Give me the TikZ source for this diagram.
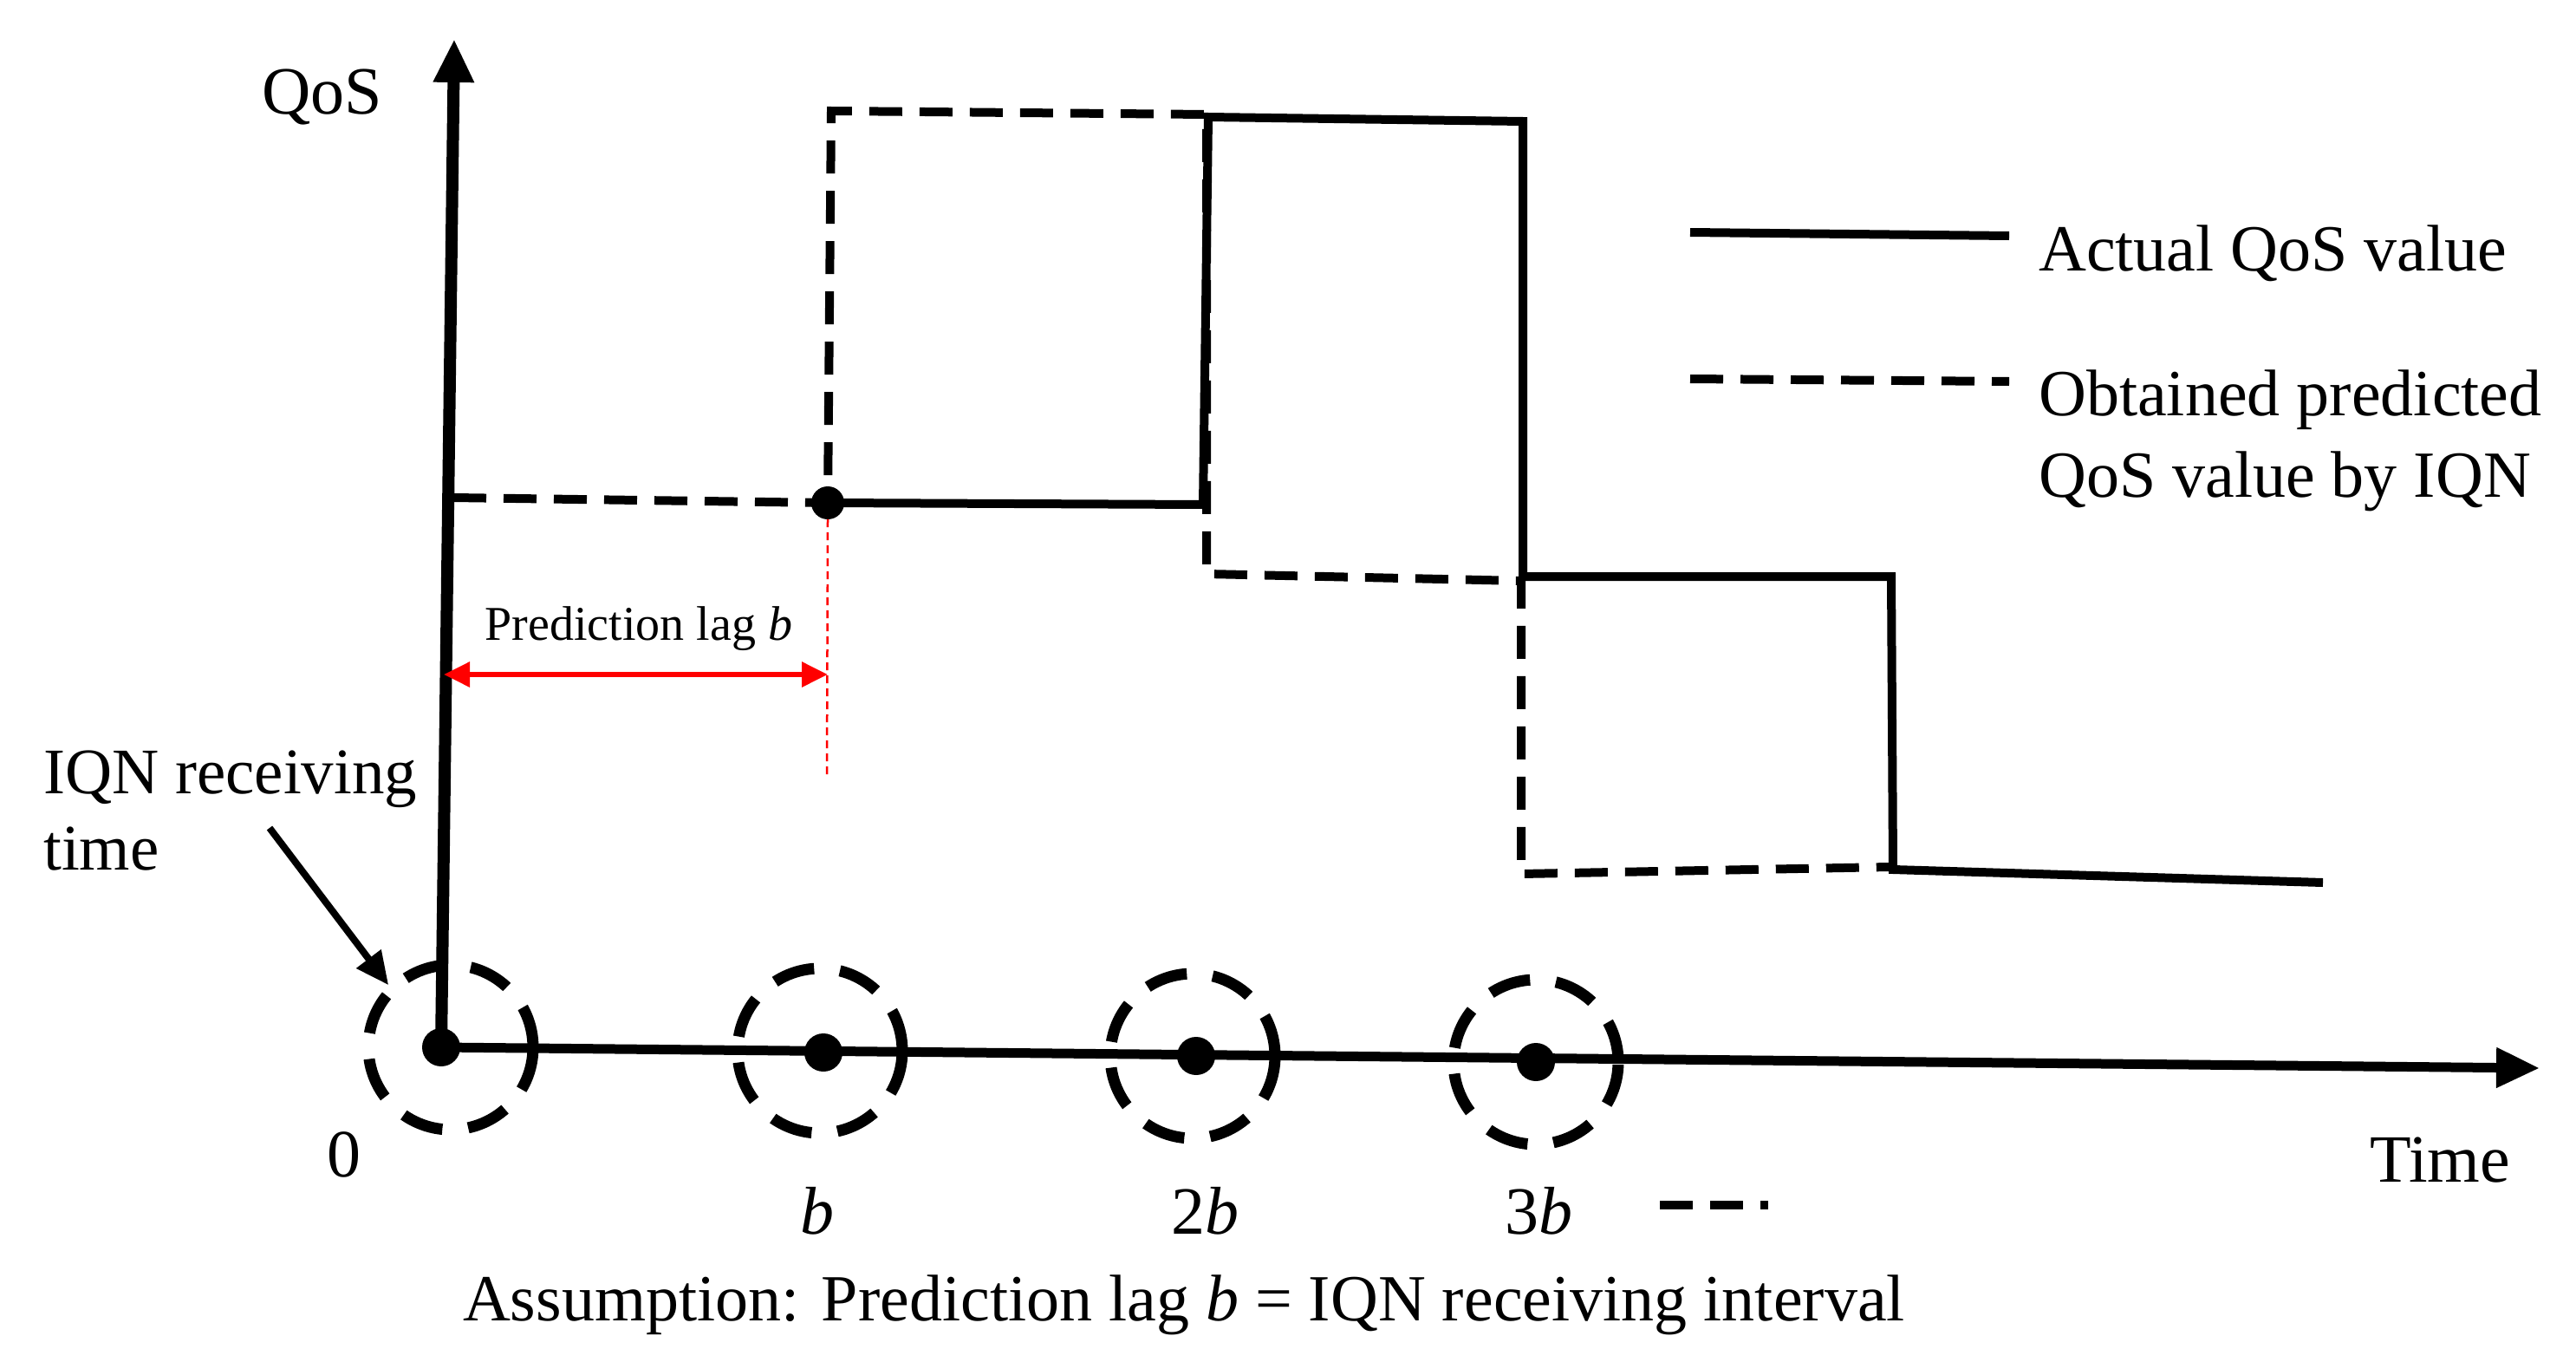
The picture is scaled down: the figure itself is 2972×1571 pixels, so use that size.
\documentclass[tikz,border=0pt]{standalone}
\usepackage{fontspec}
\setmainfont{Liberation Serif}
\usetikzlibrary{arrows.meta}
\begin{document}
\begin{tikzpicture}[x=1pt,y=-1pt,
  txt/.style={font=\fontsize{78}{92}\selectfont,inner sep=0pt},
  act/.style={line width=10pt},
  pred/.style={line width=10pt,dash pattern=on 38pt off 20pt},
  ring/.style={circle,draw,line width=13pt,dash pattern=on 48pt off 30pt,minimum size=190pt,inner sep=0pt},
  dot/.style={circle,fill,minimum size=44pt,inner sep=0pt}]
\useasboundingbox (0,0) rectangle (2972,1571);
% axes
\node[dot] (o) at (509,1208) {};
\coordinate (ytop) at (524,45);
\coordinate (xend) at (2930,1232);
\draw[line width=14pt,-{Triangle[length=50pt,width=44pt]}] (o.center) -- (ytop);
\draw[line width=11pt,-{Triangle[length=50pt,width=44pt]}] (o.center) -- (xend);
\node[dot] (d1) at (950,1214) {};
\node[dot] (d2) at (1380,1218) {};
\node[dot] (d3) at (1772,1225) {};
\node[ring] (r0) at (520,1208) {};
\node[ring] (r1) at (946,1212) {};
\node[ring] (r2) at (1376,1218) {};
\node[ring] (r3) at (1772,1225) {};
% curves
\node[dot,minimum size=38pt] (p) at (955,580) {};
\draw[pred] (523,574) -- (p.center) -- (959,128) -- (1392,132) -- (1392,662) -- (1755,670) -- (1755,1008) -- (2180,1000);
\draw[act] (p.center) -- (1388,582) -- (1394,135) -- (1757,140) -- (1757,665) -- (2182,665) -- (2184,1003) -- (2680,1018);
% lag
\coordinate (la) at (512,778);
\coordinate (lb) at (955,778);
\coordinate (pl) at (954,897);
\draw[red,line width=6pt,{Triangle[length=30pt,width=28pt]}-{Triangle[length=30pt,width=28pt]}] (la) -- (lb);
\draw[red,line width=2.5pt,dash pattern=on 9pt off 6pt] (p.south) -- (pl);
\node[txt,font=\fontsize{56}{66}\selectfont] (lag) at (737,725) {Prediction lag \textit{b}};
% labels
\node[txt] (qos) at (372,112) {QoS};
\node[txt,align=left,anchor=west,font=\fontsize{75}{88}\selectfont] (iqn) at (50,935) {IQN receiving\\time};
\coordinate (ia) at (311,955);
\draw[line width=8pt,-{Triangle[length=38pt,width=34pt]}] (ia) -- (r0.north west);
\node[txt] (l0) at (397,1332) {0};
\node[txt] (lb1) at (943,1397) {\textit{b}};
\node[txt] (lb2) at (1390,1397) {2\textit{b}};
\node[txt] (lb3) at (1775,1397) {3\textit{b}};
\node[txt] (time) at (2815,1338) {Time};
\coordinate (e1) at (1915,1390); \coordinate (e2) at (2040,1390);
\draw[pred] (e1) -- (e2);
\node[txt,font=\fontsize{76}{90}\selectfont] (ass) at (1366,1505) {Assumption: Prediction lag \textit{b} = IQN receiving interval};
% legend
\coordinate (s1) at (1950,268); \coordinate (s2) at (2318,272);
\coordinate (t1) at (1950,437); \coordinate (t2) at (2318,440);
\draw[act] (s1) -- (s2);
\draw[pred] (t1) -- (t2);
\node[txt,anchor=west,font=\fontsize{76}{90}\selectfont] (la1) at (2352,292) {Actual QoS value};
\node[txt,anchor=west,align=left,font=\fontsize{76}{94}\selectfont] (la2) at (2352,508) {Obtained predicted\\QoS value by IQN};
\end{tikzpicture}
\end{document}
